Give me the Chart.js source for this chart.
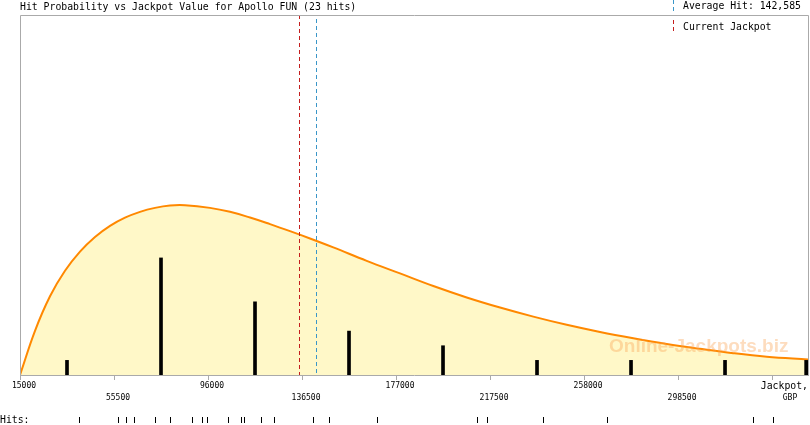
<!DOCTYPE html>
<html>
<head>
<meta charset="utf-8">
<script src="https://cdn.jsdelivr.net/npm/chart.js@4/dist/chart.umd.min.js"></script>
<style>
  html, body { margin: 0; padding: 0; background: #fff; }
  canvas { display: block; }
</style>
</head>
<body>
<canvas id="chart" width="810" height="425"></canvas>
<script>
const titulo = "Hit Probability vs Jackpot Value for Apollo FUN (23 hits)";
const promedio = 142585;
const jackpotActual = 135200;

// ticks del eje x
const tickValues = [15000, 55500, 96000, 136500, 177000, 217500, 258000, 298500, 339000];
const tickLabels = ["15000", "55500", "96000", "136500", "177000", "217500", "258000", "298500", ""];

// barras: centro de cada intervalo y cantidad de hits
const binCentres = [35250, 75750, 116250, 156750, 197250, 237750, 278250, 318750, 353700];
const binHits = [1, 8, 5, 3, 2, 1, 1, 1, 1];

// cada hit individual (franja inferior)
const hitValues = [40400, 57200, 60700, 64100, 73200, 79600, 89100, 93400, 95600, 104600,
  110200, 111500, 118800, 124400, 141200, 148100, 168800, 211900, 216200, 240300,
  267900, 330800, 339400];

// curva de probabilidad
const curveX = [15000, 21463, 27926, 34388, 40851, 47314, 53777, 60239, 66702, 73165,
  79628, 86090, 96860, 105480, 114100, 122710, 131330, 139950, 149990, 164370,
  178720, 193070, 207460, 221810, 236160, 250540, 264890, 279240, 293630, 307980,
  322330, 336710, 354500];
const curveY = [0, 3.02, 5.38, 7.12, 8.43, 9.43, 10.19, 10.75, 11.15, 11.42,
  11.58, 11.60, 11.42, 11.15, 10.76, 10.31, 9.83, 9.33, 8.72, 7.80,
  6.94, 6.08, 5.30, 4.61, 3.99, 3.43, 2.94, 2.51, 2.12, 1.79,
  1.49, 1.25, 1.06];

const FUENTE = "9.8px 'DejaVu Sans Mono'";
const GRIS = "#aaaaaa";

function lineaVertical(ctx, x, y1, y2, color) {
  ctx.save();
  ctx.strokeStyle = color;
  ctx.lineWidth = 1;
  ctx.setLineDash([4, 3]);
  ctx.beginPath();
  ctx.moveTo(Math.round(x) + 0.5, y1);
  ctx.lineTo(Math.round(x) + 0.5, y2);
  ctx.stroke();
  ctx.restore();
}

const extras = {
  id: "extras",
  afterDatasetsDraw(chart) {
    const { ctx, chartArea, scales } = chart;
    lineaVertical(ctx, scales.x.getPixelForValue(jackpotActual), chartArea.top, chartArea.bottom, "#c41e1e");
    lineaVertical(ctx, scales.x.getPixelForValue(promedio), chartArea.top + 4, chartArea.bottom, "#3a96c8");

    // marca de agua
    ctx.save();
    ctx.font = "bold 19px 'Liberation Sans'";
    ctx.fillStyle = "rgba(250,160,80,0.37)";
    ctx.textBaseline = "alphabetic";
    ctx.fillText("Online-Jackpots.biz", 609, 352);
    ctx.restore();
  },
  afterDraw(chart) {
    const { ctx, chartArea, scales } = chart;
    const l = Math.round(chartArea.left) + 0.5;
    const r = Math.round(chartArea.right) + 0.5;
    const t = Math.round(chartArea.top) + 0.5;
    const b = Math.round(chartArea.bottom);

    ctx.save();
    ctx.strokeStyle = GRIS;
    ctx.lineWidth = 1;
    ctx.beginPath();
    ctx.moveTo(l, b);
    ctx.lineTo(l, t);
    ctx.lineTo(r, t);
    ctx.lineTo(r, b);
    ctx.stroke();

    ctx.fillStyle = "#000";
    ctx.font = FUENTE;
    ctx.textBaseline = "middle";
    ctx.textAlign = "left";
    ctx.fillText(titulo, 20, 7);

    // leyenda
    lineaVertical(ctx, 673, 0, 13, "#3a96c8");
    lineaVertical(ctx, 673, 20, 34, "#c41e1e");
    ctx.fillText("Average Hit: " + promedio.toLocaleString("en-US"), 683, 6);
    ctx.fillText("Current Jackpot", 683, 27);

    // titulo del eje
    ctx.textAlign = "right";
    ctx.fillText("Jackpot,", 808, 386);
    ctx.textAlign = "center";
    ctx.font = "8px 'DejaVu Sans Mono'";
    ctx.fillText("GBP", 790, 398);

    // franja de hits
    ctx.font = FUENTE;
    ctx.textAlign = "left";
    ctx.fillText("Hits:", 0, 420);
    ctx.strokeStyle = "#000";
    ctx.beginPath();
    hitValues.forEach((v) => {
      const x = Math.round(scales.x.getPixelForValue(v)) + 0.5;
      ctx.moveTo(x, 417);
      ctx.lineTo(x, 423);
    });
    ctx.stroke();
    ctx.restore();
  },
};

new Chart(document.getElementById("chart").getContext("2d"), {
  type: "bar",
  data: {
    datasets: [
      {
        type: "bar",
        data: binCentres.map((x, i) => ({ x, y: binHits[i] })),
        backgroundColor: "#000",
        barThickness: 3,
        order: 0,
      },
      {
        type: "line",
        data: curveX.map((x, i) => ({ x, y: curveY[i] })),
        borderColor: "#ff8800",
        borderWidth: 2,
        backgroundColor: "#fff8c8",
        fill: "origin",
        pointRadius: 0,
        tension: 0.4,
        order: 1,
      },
    ],
  },
  options: {
    responsive: false,
    animation: false,
    layout: { padding: { left: 20, right: 2, top: 15, bottom: 0 } },
    plugins: { legend: { display: false }, tooltip: { enabled: false } },
    scales: {
      x: {
        type: "linear",
        min: 15000,
        max: 354500,
        offset: false,
        afterBuildTicks: (scale) => {
          scale.ticks = tickValues.map((v) => ({ value: v }));
        },
        afterFit: (scale) => {
          scale.height = 50;
        },
        ticks: {
          autoSkip: false,
          maxRotation: 0,
          padding: 0,
          labelOffset: 4,
          color: "#000",
          font: { family: "DejaVu Sans Mono", size: 8, lineHeight: 1.5 },
          callback: (value, i) => (i % 2 === 1 ? ["", tickLabels[i]] : tickLabels[i]),
        },
        grid: { offset: false, drawOnChartArea: false, color: GRIS, tickLength: 5 },
        border: { color: GRIS },
      },
      y: {
        display: false,
        min: 0,
        max: 24.6,
      },
    },
  },
  plugins: [extras],
});
</script>
</body>
</html>
